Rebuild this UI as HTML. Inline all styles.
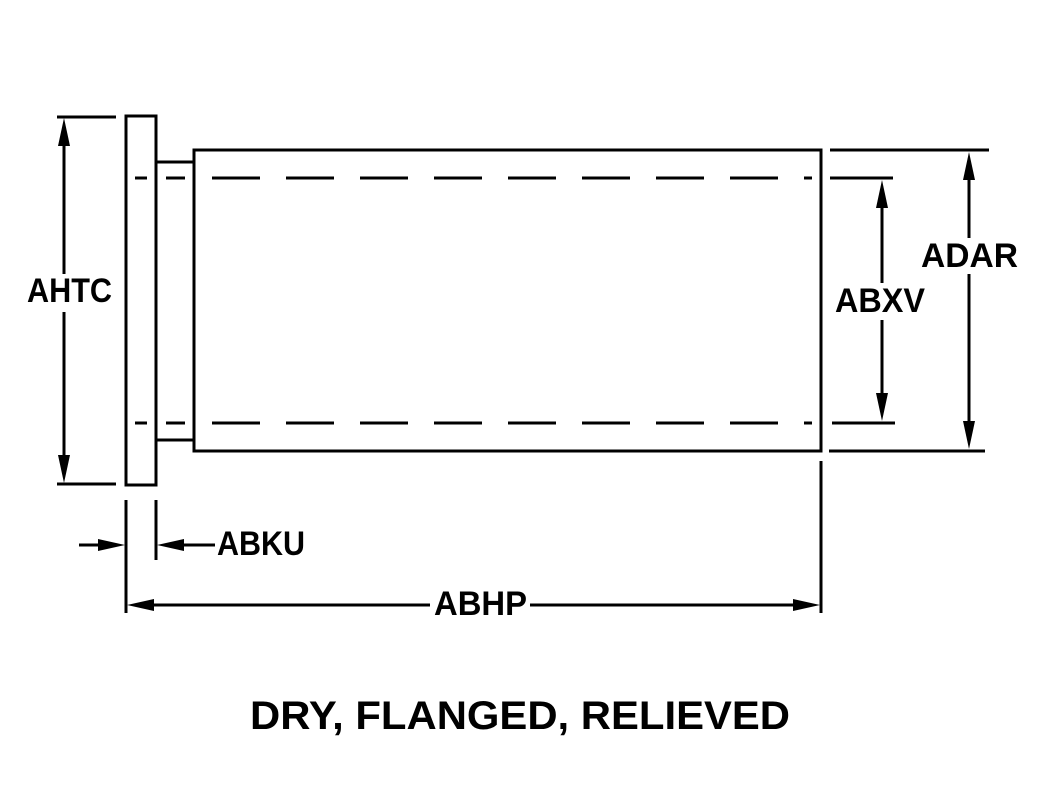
<!DOCTYPE html>
<html><head><style>body{margin:0;background:#fff}svg{display:block}</style></head><body>
<svg width="1047" height="810" viewBox="0 0 1047 810" xmlns="http://www.w3.org/2000/svg">
<g stroke="#000" stroke-width="3" fill="none">
<rect x="126" y="116" width="30" height="369"/>
<polyline points="156,162 194,162"/>
<polyline points="156,440 194,440"/>
<rect x="194" y="150" width="627" height="301"/>
<line x1="135" y1="178" x2="147" y2="178"/><line x1="166" y1="178" x2="185" y2="178"/>
<line x1="135" y1="423" x2="147" y2="423"/><line x1="166" y1="423" x2="185" y2="423"/>
<line x1="212" y1="178" x2="812" y2="178" stroke-dasharray="48 26"/>
<line x1="212" y1="423" x2="812" y2="423" stroke-dasharray="48 26"/>
<line x1="57" y1="117" x2="116" y2="117"/><line x1="57" y1="484" x2="116" y2="484"/>
<line x1="64" y1="140" x2="64" y2="274"/><line x1="64" y1="312" x2="64" y2="460"/>
<line x1="830" y1="150" x2="989" y2="150"/><line x1="829" y1="451" x2="985" y2="451"/>
<line x1="830" y1="178" x2="893" y2="178"/><line x1="832" y1="423" x2="895" y2="423"/>
<line x1="882" y1="205" x2="882" y2="283"/><line x1="882" y1="320" x2="882" y2="395"/>
<line x1="969" y1="175" x2="969" y2="238"/><line x1="969" y1="274" x2="969" y2="425"/>
<line x1="126" y1="500" x2="126" y2="613"/><line x1="156" y1="500" x2="156" y2="560"/>
<line x1="821" y1="461" x2="821" y2="613"/>
<line x1="79" y1="545" x2="105" y2="545"/><line x1="180" y1="545" x2="215" y2="545"/>
<line x1="150" y1="605" x2="430" y2="605"/><line x1="530" y1="605" x2="795" y2="605"/>
</g>
<g fill="#000">
<polygon points="64,118 58,146 70,146"/><polygon points="64,483 58,455 70,455"/>
<polygon points="882,180 876,208 888,208"/><polygon points="882,421 876,393 888,393"/>
<polygon points="969,152 963,180 975,180"/><polygon points="969,449 963,421 975,421"/>
<polygon points="125,545 98,539 98,551"/><polygon points="157,545 184,539 184,551"/>
<polygon points="127,605 154,599 154,611"/><polygon points="820,605 793,599 793,611"/>
</g>
<g font-family="Liberation Sans, sans-serif" font-weight="bold" font-size="34" fill="#000">
<text x="27" y="302" textLength="85" lengthAdjust="spacingAndGlyphs">AHTC</text>
<text x="835" y="312" textLength="90" lengthAdjust="spacingAndGlyphs">ABXV</text>
<text x="921" y="267" textLength="97" lengthAdjust="spacingAndGlyphs">ADAR</text>
<text x="217" y="555" textLength="88" lengthAdjust="spacingAndGlyphs">ABKU</text>
<text x="434" y="615" textLength="93" lengthAdjust="spacingAndGlyphs">ABHP</text>
<text x="250" y="729" font-size="40" textLength="540" lengthAdjust="spacingAndGlyphs">DRY, FLANGED, RELIEVED</text>
</g>
</svg>
</body></html>
